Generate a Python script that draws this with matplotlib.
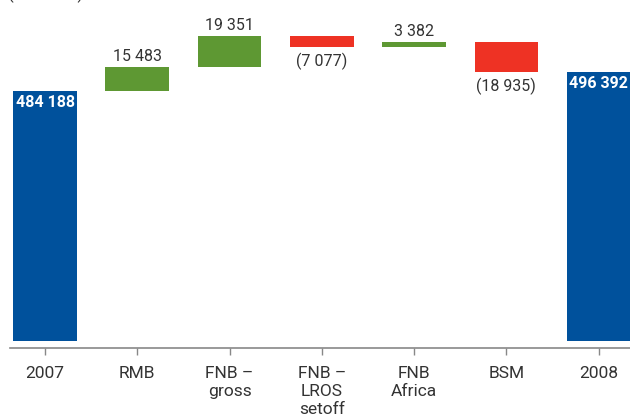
import numpy as np
import matplotlib.pyplot as plt

# Data (R million)
categories = ['2007', 'RMB', 'FNB –\ngross', 'FNB –\nLROS\nsetoff', 'FNB\nAfrica', 'BSM', '2008']
start_value = 484188
changes = [15483, 19351, -7077, 3382, -18935]
end_value = 496392
value_labels = ['484 188', '15 483', '19 351', '(7 077)', '3 382', '(18 935)', '496 392']

blue = '#00519C'
green = '#5E9833'
red = '#EE3224'
base = 326000

plt.rcParams['font.family'] = ['Roboto', 'DejaVu Sans']

fig = plt.figure(figsize=(6.3, 4.16), dpi=100)
ax = fig.add_axes([10 / 630, 1 - 348 / 416, 620 / 630, 348 / 416])

x = np.arange(len(categories))
width = 0.69

# totals
ax.bar(x[0], start_value - base, bottom=base, width=width, color=blue)
ax.bar(x[-1], end_value - base, bottom=base, width=width, color=blue)
ax.text(x[0], start_value - 2800, value_labels[0], ha='center', va='top',
        color='white', fontsize=11.5, fontweight='bold')
ax.text(x[-1], end_value - 2800, value_labels[-1], ha='center', va='top',
        color='white', fontsize=11.5, fontweight='bold')

# steps
running = start_value
for i, ch in enumerate(changes, start=1):
    lo = min(running, running + ch)
    hi = max(running, running + ch)
    ax.bar(x[i], hi - lo, bottom=lo, width=width, color=green if ch > 0 else red)
    if ch > 0:
        ax.text(x[i], hi + 1800, value_labels[i], ha='center', va='bottom',
                color='#333333', fontsize=11.5)
    else:
        ax.text(x[i], lo - 3800, value_labels[i], ha='center', va='top',
                color='#333333', fontsize=11.5)
    running += ch

ax.set_xlim(-0.38, 6.34)
ax.set_ylim(321500, 541800)

for s in ['top', 'right', 'left']:
    ax.spines[s].set_visible(False)
ax.spines['bottom'].set_color('#888888')
ax.spines['bottom'].set_linewidth(1.2)
ax.set_yticks([])
ax.set_xticks(x)
ax.set_xticklabels(categories, fontsize=12.5, color='#333333', linespacing=1.25)
ax.tick_params(axis='x', direction='out', length=5, width=1, color='#888888', pad=8)

fig.text(8 / 630, 1 + 6 / 416, '(R million)', ha='left', va='center',
         fontsize=12, color='#333333')

fig.savefig('out.png', dpi=100)
